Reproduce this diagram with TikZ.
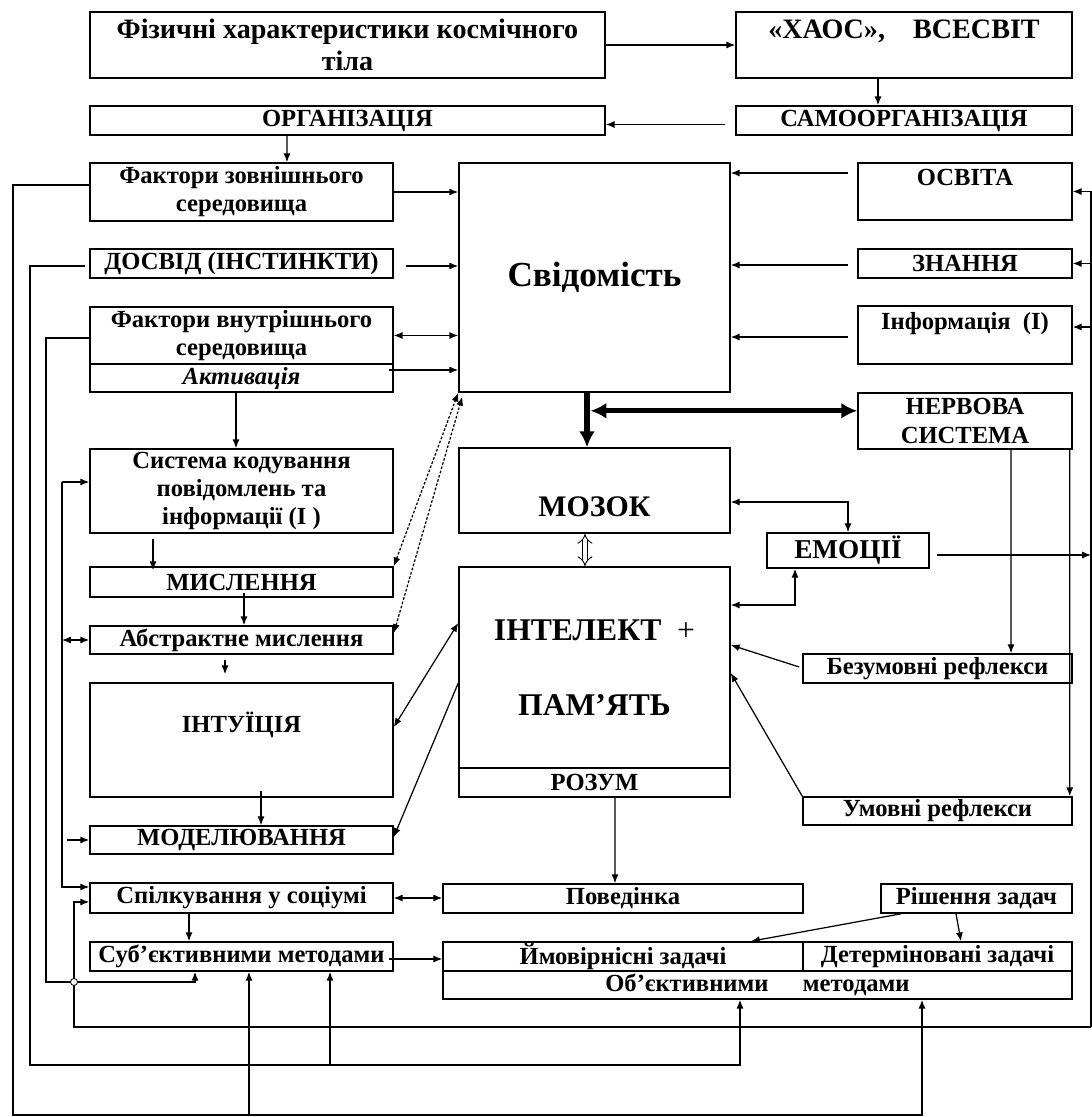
\documentclass[tikz,border=0pt]{standalone}
\usepackage{fontspec}
\setmainfont{Liberation Serif}
\usetikzlibrary{arrows.meta,calc}

\begin{document}
\begin{tikzpicture}[x=0.02cm,y=-0.02cm,
  box/.style={draw,line width=0.9pt,inner sep=0pt,align=center,font=\bfseries\fontsize{14}{16}\selectfont},
  head/.style={box,font=\bfseries\fontsize{16}{18}\selectfont},
  arr/.style={line width=0.7pt,-{Latex[length=5pt,width=4pt]}},
  dbl/.style={line width=0.7pt,{Latex[length=5pt,width=4pt]}-{Latex[length=5pt,width=4pt]}},
  dotdbl/.style={dbl,dash pattern=on 1.5pt off 1pt},
  big/.style={line width=3pt,-{Latex[length=9pt,width=9pt]}},
  bigdbl/.style={line width=3pt,{Latex[length=9pt,width=9pt]}-{Latex[length=9pt,width=9pt]}},
  hollow/.style={double,double distance=2.5pt,line width=0.5pt,{Implies}-{Implies}}]
\useasboundingbox (0,0) rectangle (1092,1117);

\node[head,minimum width=10.3cm,minimum height=1.32cm] (phys) at (347.5,45) {Фізичні характеристики космічного\\тіла};
\node[head,minimum width=6.72cm,minimum height=1.32cm] (chaos) at (904,45) {«ХАОС»,\quad ВСЕСВІТ\\\mbox{}};
\node[box,minimum width=10.3cm,minimum height=0.58cm] (org) at (347.5,120.5) {ОРГАНІЗАЦІЯ};
\node[box,minimum width=6.72cm,minimum height=0.58cm] (samo) at (904,120.5) {САМООРГАНІЗАЦІЯ};
\node[box,minimum width=6.06cm,minimum height=1.16cm] (fext) at (241.5,192) {Фактори зовнішнього\\середовища};
\node[box,font=\bfseries\fontsize{20}{24}\selectfont,minimum width=5.42cm,minimum height=4.58cm] (svid) at (594.5,277.5) {Свідомість};
\node[box,minimum width=4.28cm,minimum height=1.14cm] (osv) at (965,191.5) {ОСВІТА\\\mbox{}};
\node[box,minimum width=6.06cm,minimum height=0.58cm] (dosv) at (241.5,263.5) {ДОСВІД (ІНСТИНКТИ)};
\node[box,minimum width=4.28cm,minimum height=0.58cm] (znan) at (965,263.5) {ЗНАННЯ};
\node[box,minimum width=6.06cm,minimum height=1.14cm] (fint) at (241.5,335.5) {Фактори внутрішнього\\середовища};
\node[box,font=\bfseries\itshape\fontsize{14}{16}\selectfont,minimum width=6.06cm,minimum height=0.56cm] (akt) at (241.5,378) {Активація};
\node[box,minimum width=4.28cm,minimum height=1.16cm] (info) at (965,335) {Інформація~~(І)\\\mbox{}};
\node[box,minimum width=4.28cm,minimum height=1.12cm] (nerv) at (965,421) {НЕРВОВА\\СИСТЕМА};
\node[box,minimum width=6.06cm,minimum height=1.68cm] (sys) at (241.5,491) {Система кодування\\повідомлень та\\інформації (І )};
\node[box,font=\bfseries\fontsize{17}{20}\selectfont,minimum width=5.42cm,minimum height=1.7cm] (mozok) at (594.5,490.5) {\mbox{}\\[10pt]МОЗОК};
\node[box,font=\bfseries\fontsize{15.5}{18}\selectfont,minimum width=3.24cm,minimum height=0.7cm] (emoc) at (848,550.5) {ЕМОЦІЇ};
\node[box,minimum width=6.06cm,minimum height=0.6cm] (mysl) at (241.5,582) {МИСЛЕННЯ};
\node[box,font=\bfseries\fontsize{18}{21}\selectfont,minimum width=5.42cm,minimum height=4.02cm] (intel) at (594.5,667.5) {ІНТЕЛЕКТ\enspace{\mdseries +}\\[22pt]ПАМ’ЯТЬ};
\node[box,minimum width=5.42cm,minimum height=0.58cm] (rozum) at (594.5,782.5) {РОЗУМ};
\node[box,minimum width=6.06cm,minimum height=0.56cm] (abst) at (241.5,640) {Абстрактне мислення};
\node[box,minimum width=5.38cm,minimum height=0.58cm] (bezum) at (937.5,668.5) {Безумовні рефлекси};
\node[box,minimum width=6.06cm,minimum height=2.28cm] (intu) at (241.5,740) {ІНТУЇЦІЯ\\[4pt]\mbox{}};
\node[box,minimum width=5.38cm,minimum height=0.56cm] (umov) at (937.5,811) {Умовні рефлекси};
\node[box,minimum width=6.06cm,minimum height=0.56cm] (model) at (241.5,840) {МОДЕЛЮВАННЯ};
\node[box,minimum width=6.06cm,minimum height=0.6cm] (spilk) at (241.5,898) {Спілкування у соціумі};
\node[box,minimum width=7.2cm,minimum height=0.58cm] (poved) at (623,898.5) {Поведінка};
\node[box,minimum width=3.82cm,minimum height=0.58cm] (rish) at (976.5,898.5) {Рішення задач};
\node[box,minimum width=6.06cm,minimum height=0.58cm] (subj) at (241.5,956.5) {Суб’єктивними методами};
\node[box,minimum width=7.2cm,minimum height=0.58cm] (ymov) at (623,956.5) {Ймовірнісні задачі};
\node[box,minimum width=5.38cm,minimum height=0.58cm] (determ) at (937.5,956.5) {Детерміновані задачі};
\node[box,minimum width=12.58cm,minimum height=0.56cm] (obj) at (757.5,985) {Об’єктивними\hspace{1.4em}методами};

\coordinate (rb) at (1091,1027);
\coordinate (lb) at (74,1027);
\coordinate (la) at (13,1115);
\coordinate (lc) at (30,1065);
\coordinate (ld) at (46,982);
\coordinate (le) at (62,0);
\coordinate (d1) at ($(dosv.east)+(12,2.5)$);
\coordinate (a1) at ($(akt.east)+(-5,-8)$);
\coordinate (o1) at ($(osv.west)+(-9,-18.5)$);
\coordinate (z1) at ($(znan.west)+(-9,1.5)$);
\coordinate (n1) at ($(info.west)+(-9,2)$);
\coordinate (i1) at ($(info.east)+(0,-8)$);
\coordinate (t1) at ($(svid.south)+(-4,18)$);
\coordinate (e1) at ($(emoc.east)+(7,4.5)$);
\coordinate (k1) at ($(sys.west)+(0,-9)$);
\coordinate (s1) at ($(spilk.west)+(0,-11)$);
\coordinate (s2) at ($(spilk.west)+(0,4)$);
\coordinate (u1) at ($(subj.east)+(-5,2.5)$);
\coordinate (b1) at ($(subj.south)+(7.5,0)$);
\coordinate (b2) at ($(subj.south)+(88.5,0)$);

\path[draw,arr] (phys.east) -- (chaos.west);
\path[draw,arr] ($(chaos.south)+(-26,0)$) -- ($(samo.north)+(-26,0)$);
\path[draw,arr] ($(samo.west)+(-10,4)$) -- ($(org.east)+(0,4)$);
\path[draw,arr] ($(org.south)+(-60.5,0)$) -- ($(fext.north)+(45.5,0)$);
\path[draw,arr] (fext.east) -- (fext.east -| svid.west);
\path[draw,arr] (d1) -- (d1 -| svid.west);
\path[draw,dbl] (fint.east) -- (fint.east -| svid.west);
\path[draw,arr] (a1) -- (a1 -| svid.west);
\path[draw,arr] (o1) -- (o1 -| svid.east);
\path[draw,arr] (z1) -- (z1 -| svid.east);
\path[draw,arr] (n1) -- (n1 -| svid.east);

\path[draw,dotdbl] (mysl.north east) -- (svid.south west);
\path[draw,dotdbl] ($(abst.east)+(0,-7)$) -- ($(svid.south west)+(4,4)$);
\path[draw,dbl] ($(intu.east)+(0,-13)$) -- ($(intel.west)+(0,-44.5)$);
\path[draw,arr] ($(intel.west)+(0,15.5)$) -- ($(model.east)+(0,-3)$);

\path[draw,big] ($(svid.south)+(-7.5,0)$) -- ($(mozok.north)+(-7.5,0)$);
\path[draw,bigdbl] (t1) -- (t1 -| nerv.west);
\path[draw,hollow] ($(mozok.south)+(-9.5,0)$) -- ($(intel.north)+(-9.5,0)$);

\path[draw,dbl] ($(mozok.east)+(0,11.5)$) -| (emoc.north);
\path[draw,dbl] ($(intel.east)+(0,-62.5)$) -| ($(emoc.south)+(-53,0)$);
\path[draw,arr] ($(nerv.south)+(46,0)$) -- ($(bezum.north)+(73.5,0)$);
\path[draw,arr] ($(nerv.south east)+(-3,0)$) -- ($(umov.north east)+(-3,0)$);
\path[draw,arr] ($(bezum.west)+(-3,-1.5)$) -- ($(intel.east)+(0,-22.5)$);
\path[draw,arr] (umov.north west) -- ($(intel.east)+(0,5.5)$);

\path[draw,arr] ($(akt.south)+(-5.5,0)$) -- ($(sys.north)+(-5.5,0)$);
\path[draw,arr] ($(sys.south)+(-88.5,5)$) -- ($(mysl.north)+(-88.5,4)$);
\path[draw,arr] ($(mysl.south)+(2.5,-5)$) -- ($(abst.north)+(2.5,0)$);
\path[draw,arr] ($(abst.south)+(-16.5,5)$) -- ($(intu.north)+(-16.5,-8)$);
\path[draw,arr] ($(intu.south)+(19.5,-7)$) -- ($(model.north)+(19.5,0)$);
\path[draw,dbl] (spilk.east) -- (spilk.east -| poved.west);
\path[draw,arr] ($(spilk.south)+(-52.5,0)$) -- ($(subj.north)+(-52.5,0)$);
\path[draw,arr] (u1) -- (u1 -| ymov.west);
\path[draw,arr] ($(rozum.south)+(20.5,0)$) -- ($(poved.north)+(-8,0)$);
\path[draw,arr] ($(rish.south)+(-75.5,0)$) -- ($(ymov.north)+(128,0)$);
\path[draw,arr] ($(rish.south)+(-20.5,0)$) -- ($(determ.north)+(23.5,0)$);

\path[draw,arr] (k1 -| le) |- (s1);
\path[draw,arr] (k1 -| le) -- (k1);
\path[draw,dbl] (abst.west -| le) -- (abst.west);
\path[draw,arr] ($(model.west -| le)+(5,0)$) -- (model.west);

\path[draw,arr] (rb) |- (osv.east);
\path[draw,arr] (znan.east -| rb) -- (znan.east);
\path[draw,arr] (i1 -| rb) -- (i1);
\path[draw,arr] (e1) -- (e1 -| rb);
\path[draw,arr] (rb) -- (lb) |- (s2);

\path[draw,arr] ($(fext.west)+(0,-7)$) -| (la) -| ($(obj.south)+(164.5,0)$);
\path[draw,arr] (b1 |- la) -- (b1);
\path[draw,arr] ($(dosv.west)+(-4,2.5)$) -| (lc) -| ($(obj.south)+(-17.5,0)$);
\path[draw,arr] (b2 |- lc) -- (b2);
\path[draw,arr] ($(fint.west)+(0,2.5)$) -| (ld) -| ($(subj.south)+(-46.5,0)$);
\path[draw,fill=white,line width=0.5pt] (lb |- ld) circle (2pt);
\end{tikzpicture}
\end{document}
